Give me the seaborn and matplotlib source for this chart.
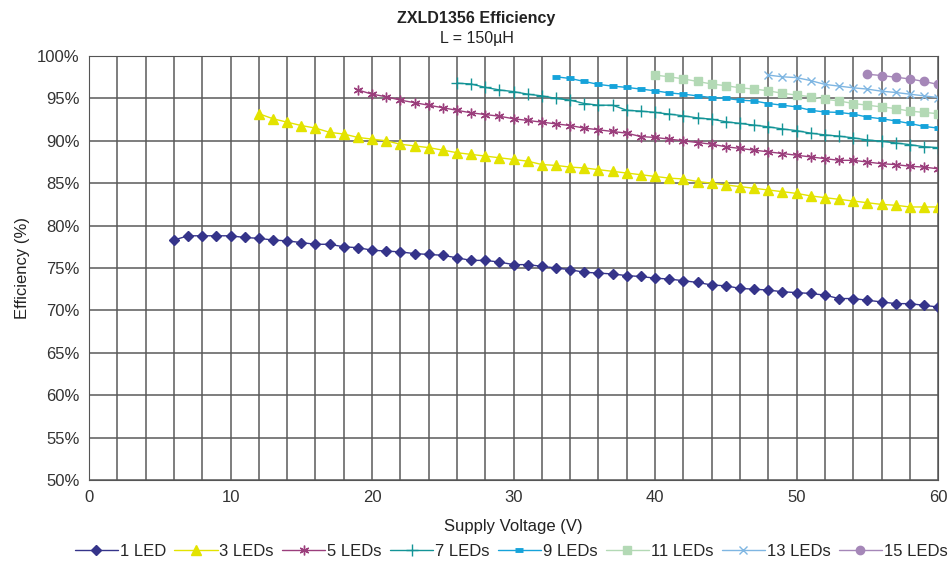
import pandas as pd
import matplotlib
matplotlib.use('Agg')
import matplotlib.pyplot as plt
import seaborn as sns

# Data (supply voltage in V, efficiency in %)
v_1 = list(range(6, 61))
eff_1 = [78.3, 78.8, 78.8, 78.8, 78.8, 78.6, 78.5, 78.3, 78.2, 78.0,
         77.8, 77.8, 77.5, 77.4, 77.1, 77.0, 76.9, 76.7, 76.6, 76.5,
         76.2, 75.9, 75.9, 75.7, 75.4, 75.4, 75.2, 75.0, 74.8, 74.5,
         74.4, 74.3, 74.1, 74.0, 73.8, 73.7, 73.5, 73.3, 73.0, 72.9,
         72.6, 72.5, 72.4, 72.2, 72.1, 72.0, 71.8, 71.4, 71.4, 71.2,
         71.0, 70.8, 70.8, 70.6, 70.4]

v_3 = list(range(12, 61))
eff_3 = [93.2, 92.6, 92.2, 91.8, 91.5, 91.0, 90.8, 90.4, 90.2, 90.0,
         89.6, 89.4, 89.2, 88.9, 88.6, 88.4, 88.2, 88.0, 87.8, 87.6,
         87.2, 87.1, 86.9, 86.8, 86.6, 86.4, 86.2, 86.0, 85.8, 85.6,
         85.5, 85.2, 85.0, 84.8, 84.6, 84.4, 84.2, 84.0, 83.8, 83.5,
         83.3, 83.1, 82.9, 82.7, 82.5, 82.4, 82.2, 82.2, 82.2]

v_5 = list(range(19, 61))
eff_5 = [96.0, 95.5, 95.2, 94.8, 94.5, 94.2, 93.9, 93.6, 93.3, 93.1,
         92.9, 92.6, 92.4, 92.2, 92.0, 91.8, 91.5, 91.3, 91.1, 90.9,
         90.5, 90.4, 90.2, 90.0, 89.8, 89.6, 89.3, 89.1, 88.9, 88.7,
         88.5, 88.3, 88.1, 87.9, 87.7, 87.7, 87.5, 87.3, 87.2, 87.0,
         86.9, 86.7]

v_7 = list(range(26, 61))
eff_7 = [96.8, 96.7, 96.3, 96.0, 95.8, 95.5, 95.3, 95.0, 94.8, 94.4,
         94.2, 94.2, 93.6, 93.5, 93.35, 93.15, 92.95, 92.7, 92.55, 92.25,
         92.05, 91.85, 91.65, 91.4, 91.2, 90.9, 90.7, 90.55, 90.35, 90.1,
         89.95, 89.75, 89.55, 89.3, 89.2]

v_9 = list(range(33, 61))
eff_9 = [97.55, 97.35, 97.0, 96.65, 96.45, 96.3, 96.1, 95.9, 95.65, 95.5,
         95.3, 95.1, 95.0, 94.8, 94.7, 94.4, 94.2, 94.0, 93.6, 93.4,
         93.35, 93.15, 92.8, 92.6, 92.35, 92.05, 91.7, 91.5]

v_11 = list(range(40, 61))
eff_11 = [97.75, 97.55, 97.3, 97.0, 96.7, 96.5, 96.25, 96.1, 95.9, 95.6,
          95.4, 95.2, 94.9, 94.7, 94.4, 94.2, 94.0, 93.8, 93.5, 93.35, 93.2]

v_13 = list(range(48, 61))
eff_13 = [97.75, 97.55, 97.45, 97.1, 96.65, 96.45, 96.25, 96.1, 95.85, 95.7,
          95.5, 95.3, 95.1]

v_15 = list(range(55, 61))
eff_15 = [97.85, 97.7, 97.5, 97.3, 97.0, 96.65]

series = [
    ('1 LED', v_1, eff_1, '#35348A', 'D', 5, 1),
    ('3 LEDs', v_3, eff_3, '#E3E300', '^', 7, 1),
    ('5 LEDs', v_5, eff_5, '#9B3E7C', (6, 2, 0), 7, 1),
    ('7 LEDs', v_7, eff_7, '#139497', '+', 8, 1),
    ('9 LEDs', v_9, eff_9, '#16A3DA', '_', 6, 3.5),
    ('11 LEDs', v_11, eff_11, '#B3D9B5', 's', 6, 1),
    ('13 LEDs', v_13, eff_13, '#7FB6E2', 'x', 6, 1),
    ('15 LEDs', v_15, eff_15, '#A587B8', 'o', 6, 1),
]

sns.set_style('white')
plt.rcParams['font.family'] = ['Liberation Sans', 'DejaVu Sans']

fig = plt.figure(figsize=(9.53, 5.63), dpi=100)
ax = fig.add_axes([0.0934, 0.1474, 0.8910, 0.7531])

for name, xs, ys, color, marker, ms, mew in series:
    df = pd.DataFrame({'voltage': xs, 'efficiency': ys})
    sns.lineplot(data=df, x='voltage', y='efficiency', ax=ax, color=color,
                 marker=marker, markersize=ms, markeredgewidth=mew,
                 markeredgecolor=color, linewidth=1.0, label=name)

ax.set_xlim(0, 60)
ax.set_ylim(50, 100)
ax.set_xticks(range(0, 61, 10))
ax.set_xticks(range(0, 61, 2), minor=True)
ax.set_yticks(range(50, 101, 5))
ax.set_yticklabels([f'{v}%' for v in range(50, 101, 5)])
ax.grid(True, which='both', axis='x', color='#5a5a5a', linewidth=1.1)
ax.grid(True, which='major', axis='y', color='#5a5a5a', linewidth=1.1)
ax.tick_params(axis='both', which='both', length=0, labelsize=12, pad=7,
               labelcolor='#333333')
for s in ax.spines.values():
    s.set_color('#555555')

ax.set_xlabel('Supply Voltage (V)', fontsize=12, labelpad=10, color='#222222')
ax.set_ylabel('Efficiency (%)', fontsize=12, labelpad=5, color='#222222')

fig.text(0.5, 0.968, 'ZXLD1356 Efficiency', ha='center', va='center',
         fontsize=11.5, fontweight='bold', color='#222222')
fig.text(0.5, 0.931, 'L = 150µH', ha='center', va='center',
         fontsize=11.5, color='#222222')

ax.legend(loc='center', bbox_to_anchor=(0.497, -0.168), ncol=8,
          frameon=False, fontsize=12, handlelength=2.6, handletextpad=0.1,
          columnspacing=0.5, borderaxespad=0)

fig.savefig('out.png', dpi=100)
